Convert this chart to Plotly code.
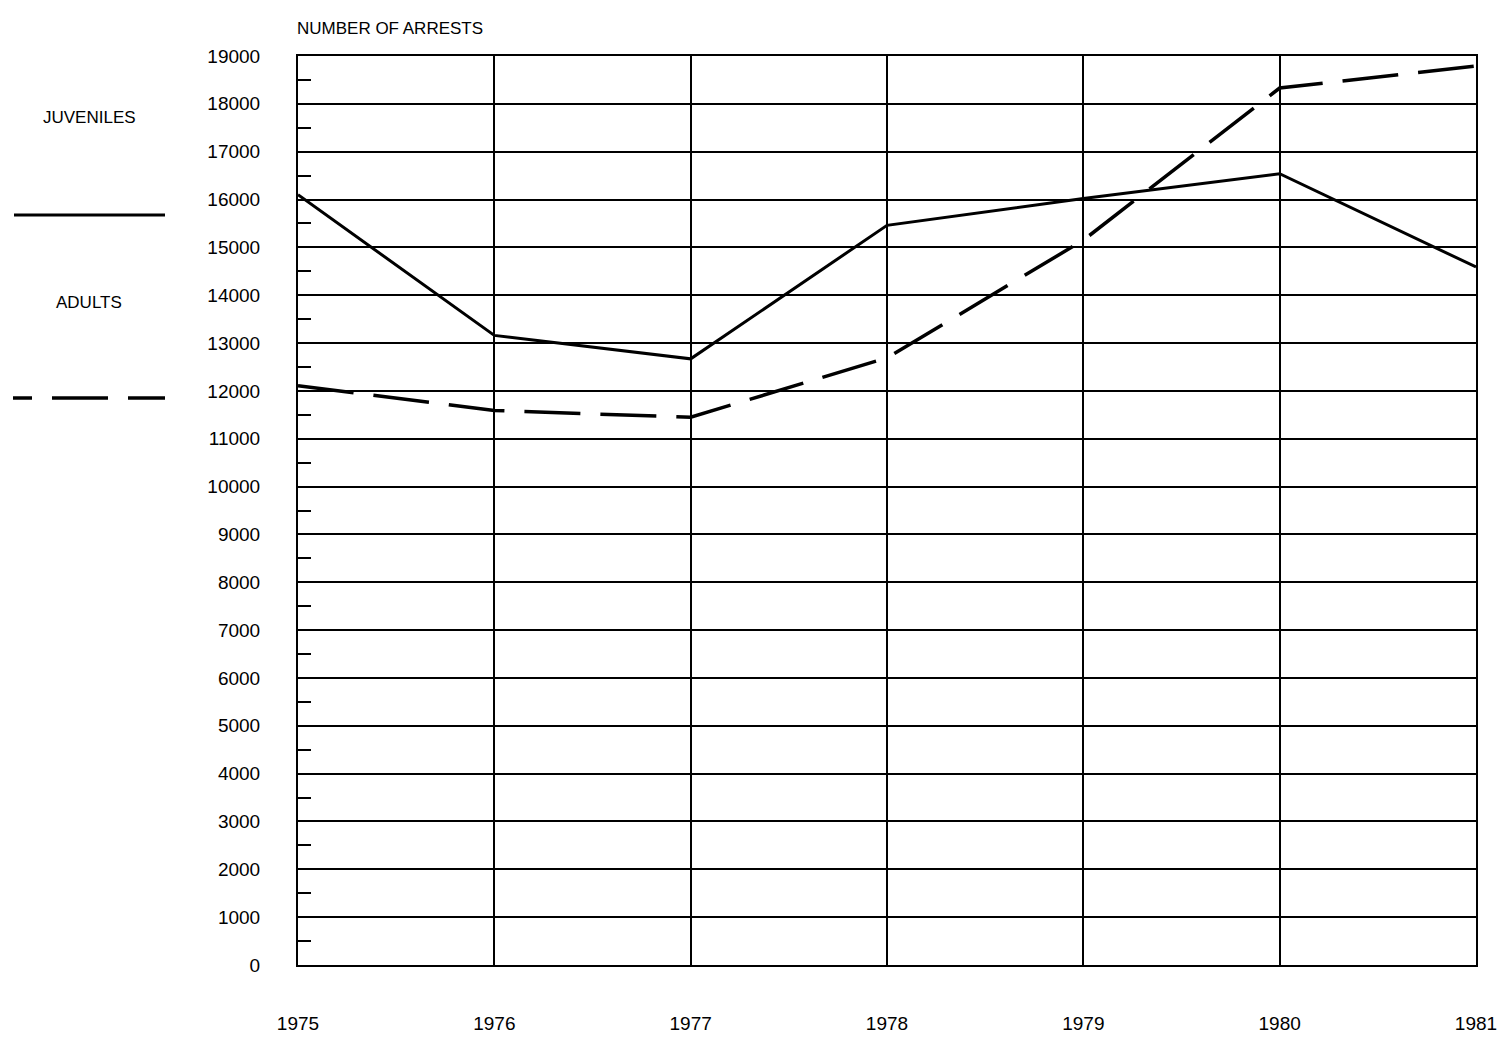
import plotly.graph_objects as go

years = [1975, 1976, 1977, 1978, 1979, 1980, 1981]
juveniles = [16100, 13160, 12670, 15460, 16020, 16540, 14590]
adults = [12110, 11590, 11450, 12690, 15150, 18330, 18790]
y_ticks = list(range(0, 19001, 1000))

FONT = "Liberation Sans, Arial, sans-serif"

# page body has an 8px margin; figure sized to fit in the window without scrollbars
W, H = 1489, 1027
PL, PR, PT, PB = 298, 1476, 56, 965  # plot area in window pixels
OFF = 8

fig = go.Figure()
fig.add_trace(go.Scatter(x=years, y=juveniles, mode="lines", name="JUVENILES",
                         line=dict(color="black", width=3), showlegend=False))
fig.add_trace(go.Scatter(x=years, y=adults, mode="lines", name="ADULTS",
                         line=dict(color="black", width=3.5, dash="56px,20px"), showlegend=False))

fig.update_layout(
    width=W, height=H,
    margin=dict(l=PL - OFF, r=W - (PR - OFF), t=PT - OFF, b=H - (PB - OFF), autoexpand=False),
    paper_bgcolor="white", plot_bgcolor="white",
    font=dict(family=FONT, size=19, color="black"),
    xaxis=dict(range=[1975, 1981], tickmode="array", tickvals=years,
               ticktext=[str(y) for y in years],
               showgrid=True, gridcolor="black", gridwidth=2,
               showline=True, linecolor="black", linewidth=2, mirror=True,
               ticks="", ticklabelstandoff=40, zeroline=False,
               ticklabeloverflow="allow",
               tickfont=dict(family=FONT, size=19)),
    yaxis=dict(range=[0, 19000], tickmode="array", tickvals=y_ticks,
               ticktext=[str(v) for v in y_ticks],
               showgrid=True, gridcolor="black", gridwidth=2,
               showline=True, linecolor="black", linewidth=2, mirror=True,
               ticks="", ticklabelstandoff=32, zeroline=False,
               ticklabeloverflow="allow",
               tickfont=dict(family=FONT, size=19),
               minor=dict(tickmode="linear", tick0=500, dtick=1000,
                          ticks="inside", ticklen=13, tickwidth=2,
                          tickcolor="black", showgrid=False)),
)

def px(x):
    return (x - PL) / (PR - PL)

def py(y):
    return (PB - y) / (PB - PT)

fig.add_annotation(text="NUMBER OF ARRESTS", xref="paper", yref="paper",
                   x=0, y=1, xanchor="left", yanchor="bottom", yshift=16, xshift=-3,
                   showarrow=False, font=dict(family=FONT, size=17))

# Legend (manual)
fig.add_annotation(text="JUVENILES", xref="paper", yref="paper",
                   x=px(89), y=py(118), xanchor="center", yanchor="middle",
                   showarrow=False, font=dict(family=FONT, size=17))
fig.add_annotation(text="ADULTS", xref="paper", yref="paper",
                   x=px(89), y=py(302), xanchor="center", yanchor="middle",
                   showarrow=False, font=dict(family=FONT, size=17))
fig.add_shape(type="line", xref="paper", yref="paper",
              x0=px(14), x1=px(165), y0=py(215), y1=py(215),
              line=dict(color="black", width=3))
for a, b in [(13, 32), (52, 108), (128, 165)]:
    fig.add_shape(type="line", xref="paper", yref="paper",
                  x0=px(a), x1=px(b), y0=py(398), y1=py(398),
                  line=dict(color="black", width=3.5))

fig.write_html("out.html")
